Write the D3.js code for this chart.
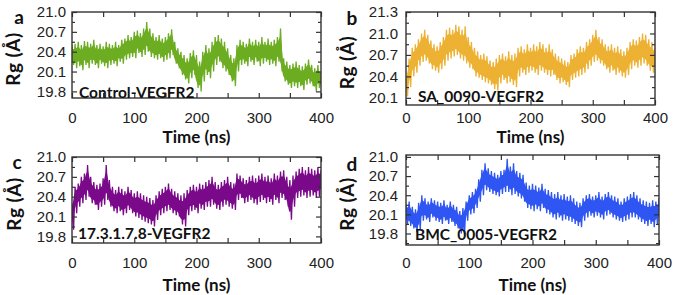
<!DOCTYPE html>
<html>
<head>
<meta charset="utf-8">
<script src="https://cdn.jsdelivr.net/npm/d3@7"></script>
<style>
  body { margin: 0; background: #fff; }
  .tick text { font-family: "Liberation Sans", Arial, sans-serif; font-size: 15px; fill: #222; }
  .tick line { stroke: #333; stroke-width: 1.2; }
  .lab { font-family: Lato, "Open Sans", sans-serif; font-weight: bold; fill: #111; }
</style>
</head>
<body>
<script>
  // time grid (ns), one bin every 5 ns; each bin has a high and a low Rg
  const times = d3.range(0, 401, 5);
  const xTicks = [0, 100, 200, 300, 400];
  const xMinorTicks = [50, 150, 250, 350];

  const names = ['Control-VEGFR2', 'SA_0090-VEGFR2', '17.3.1.7.8-VEGFR2', 'BMC_0005-VEGFR2'];
  const letters = ['a', 'b', 'c', 'd'];

  const yTicksA = [19.8, 20.1, 20.4, 20.7, 21.0];
  const yTicksB = [20.1, 20.4, 20.7, 21.0, 21.3];
  const yTicksC = [19.8, 20.1, 20.4, 20.7, 21.0];
  const yTicksD = [19.8, 20.1, 20.4, 20.7, 21.0];

  const controlHi = [20.50,20.52,20.55,20.50,20.56,20.55,20.52,20.58,20.50,20.52,20.48,20.55,20.52,20.50,20.55,20.50,20.58,20.60,20.65,20.62,
    20.70,20.72,20.68,20.75,20.85,20.75,20.68,20.62,20.65,20.60,20.62,20.68,20.74,20.55,20.45,20.40,20.35,20.30,20.38,20.42,
    20.35,20.25,20.40,20.50,20.45,20.55,20.62,20.65,20.60,20.55,20.45,20.35,20.30,20.50,20.58,20.55,20.52,20.60,20.55,20.58,
    20.55,20.62,20.55,20.60,20.55,20.58,20.62,20.75,20.30,20.25,20.20,20.22,20.25,20.20,20.18,20.22,20.28,20.20,20.15,20.20,20.10];
  const controlLo = [20.20,20.15,20.18,20.12,20.20,20.15,20.22,20.20,20.15,20.22,20.18,20.15,20.20,20.22,20.18,20.25,20.22,20.28,20.30,20.32,
    20.30,20.38,20.32,20.35,20.40,20.32,20.30,20.28,20.30,20.25,20.28,20.30,20.35,20.22,20.15,20.05,19.98,19.92,20.00,20.05,
    19.85,19.80,19.95,20.05,20.00,20.10,20.20,20.25,20.15,20.10,20.05,19.95,19.88,20.10,20.20,20.22,20.18,20.25,20.20,20.25,
    20.18,20.22,20.25,20.20,20.22,20.18,20.25,20.10,19.95,19.90,19.85,19.88,19.85,19.88,19.82,19.90,19.92,19.88,19.80,19.85,19.85];

  const sa0090Hi = [20.40,20.65,20.80,20.85,20.92,21.00,21.05,20.98,20.90,20.85,20.82,20.88,20.95,21.05,21.08,21.05,21.12,21.10,21.05,21.10,
    20.95,20.88,20.80,20.75,20.70,20.72,20.68,20.62,20.60,20.65,20.70,20.72,20.68,20.75,20.70,20.72,20.80,20.82,20.78,20.85,
    20.80,20.85,20.82,20.88,20.85,20.80,20.85,20.78,20.72,20.68,20.65,20.62,20.60,20.70,20.72,20.78,20.82,20.80,20.88,20.92,
    20.98,21.05,20.95,20.92,20.85,20.82,20.85,20.80,20.82,20.78,20.75,20.80,20.88,20.92,20.90,20.95,21.00,20.98,20.92,20.88,20.80];
  const sa0090Lo = [20.12,20.25,20.40,20.45,20.55,20.60,20.62,20.58,20.50,20.48,20.45,20.50,20.55,20.62,20.65,20.68,20.70,20.65,20.62,20.58,
    20.52,20.50,20.40,20.38,20.35,20.32,20.30,20.28,20.22,20.20,20.30,20.35,20.30,20.32,20.28,20.25,20.40,20.45,20.42,20.45,
    20.48,20.45,20.42,20.48,20.45,20.42,20.40,20.42,20.35,20.30,20.32,20.28,20.25,20.35,20.38,20.40,20.42,20.45,20.50,20.55,
    20.60,20.62,20.58,20.55,20.50,20.45,20.48,20.42,20.45,20.40,20.38,20.42,20.50,20.55,20.52,20.55,20.58,20.55,20.48,20.45,20.50];

  const ligandCHi = [20.30,20.55,20.60,20.70,20.75,20.88,20.70,20.62,20.58,20.60,20.68,20.88,20.65,20.55,20.50,20.55,20.52,20.48,20.55,20.50,
    20.45,20.48,20.45,20.42,20.40,20.38,20.35,20.42,20.48,20.52,20.55,20.60,20.52,20.48,20.45,20.42,20.45,20.50,20.55,20.58,
    20.55,20.60,20.58,20.62,20.65,20.70,20.62,20.58,20.62,20.65,20.70,20.62,20.60,20.75,20.72,20.68,20.65,20.70,20.72,20.68,
    20.72,20.75,20.70,20.72,20.68,20.75,20.72,20.78,20.80,20.70,20.65,20.72,20.78,20.82,20.85,20.80,20.85,20.82,20.80,20.85,20.80];
  const ligandCLo = [19.90,20.15,20.25,20.30,20.35,20.40,20.30,20.28,20.20,20.25,20.28,20.35,20.25,20.18,20.15,20.18,20.12,20.15,20.20,20.15,
    20.10,20.08,20.05,20.02,20.00,19.98,19.95,20.05,20.12,20.15,20.18,20.20,20.15,20.12,20.10,19.98,19.95,20.12,20.18,20.20,
    20.15,20.22,20.20,20.25,20.25,20.28,20.22,20.20,20.25,20.28,20.25,20.22,20.20,20.35,20.38,20.30,20.32,20.35,20.30,20.28,
    20.32,20.35,20.30,20.32,20.28,20.35,20.30,20.38,20.35,20.25,20.05,20.25,20.38,20.40,20.42,20.38,20.40,20.42,20.38,20.40,20.45];

  const bmc0005Hi = [20.25,20.30,20.22,20.18,20.28,20.40,20.35,20.30,20.35,20.32,20.30,20.28,20.32,20.25,20.30,20.25,20.22,20.15,20.20,20.30,
    20.40,20.45,20.50,20.65,20.80,20.90,20.82,20.78,20.75,20.72,20.78,20.80,20.97,20.85,20.90,20.78,20.75,20.72,20.60,20.55,
    20.58,20.55,20.52,20.58,20.50,20.48,20.45,20.42,20.45,20.40,20.42,20.38,20.40,20.35,20.30,20.28,20.35,20.40,20.42,20.38,
    20.40,20.45,20.38,20.42,20.45,20.40,20.38,20.35,20.30,20.35,20.38,20.42,20.45,20.40,20.35,20.32,20.30,20.28,20.32,20.30,20.35];
  const bmc0005Lo = [19.95,19.92,19.88,19.82,19.85,20.00,20.02,19.98,20.05,20.00,19.98,19.95,20.00,19.95,19.98,19.92,19.88,19.80,19.78,20.00,
    20.10,20.12,20.20,20.30,20.40,20.48,20.45,20.42,20.40,20.38,20.42,20.45,20.45,20.40,20.42,20.38,20.35,20.30,20.20,20.18,
    20.15,20.18,20.15,20.20,20.12,20.10,20.05,20.02,20.05,20.00,20.02,20.00,19.98,19.95,19.92,19.90,20.00,20.05,20.08,20.05,
    20.08,20.05,20.02,20.08,20.10,20.05,20.02,20.00,19.98,20.00,20.02,20.05,20.05,20.02,19.98,19.95,19.92,19.95,19.90,19.95,20.00];

  const width = 675;
  const height = 295;

  const panels = [
    { hi: controlHi, lo: controlLo, ticks: yTicksA, dom: [19.7, 21.0], color: '#6cad22',
      x0: 72, x1: 321, y0: 12, y1: 98, pad: 14.5, labY: 98, labX: 79, letter: [19, 24], rg: 14, timeY: 143 },
    { hi: sa0090Hi, lo: sa0090Lo, ticks: yTicksB, dom: [20.0, 21.3], color: '#edb133',
      x0: 406, x1: 655, y0: 12, y1: 105, pad: 7.5, labY: 102, labX: 418, letter: [352, 25], rg: 348, timeY: 143 },
    { hi: ligandCHi, lo: ligandCLo, ticks: yTicksC, dom: [19.7, 21.0], color: '#7a0a8a',
      x0: 72, x1: 321, y0: 157, y1: 243, pad: 14.5, labY: 239, labX: 78, letter: [17, 169], rg: 15, timeY: 291 },
    { hi: bmc0005Hi, lo: bmc0005Lo, ticks: yTicksD, dom: [19.62, 21.03], color: '#2f56f2',
      x0: 406, x1: 659, y0: 155, y1: 245, pad: 12.5, labY: 240, labX: 415, letter: [352, 171], rg: 348, timeY: 291 }
  ];

  const svg = d3.select('body').append('svg')
    .attr('width', width)
    .attr('height', height);

  const fmt = d3.format('.1f');

  panels.forEach((p, k) => {
    const x = d3.scaleLinear().domain([0, 400]).range([p.x0, p.x1]);
    const y = d3.scaleLinear().domain(p.dom).range([p.y1, p.y0]);
    const g = svg.append('g');

    // clip the trace to the frame
    g.append('clipPath').attr('id', 'clip' + k)
      .append('rect')
      .attr('x', p.x0).attr('y', p.y0)
      .attr('width', p.x1 - p.x0).attr('height', p.y1 - p.y0);

    const trace = g.append('g').attr('clip-path', `url(#clip${k})`);

    // solid core of the band, shrunk a bit so the spikes show at the edges
    const area = d3.area()
      .x(t => x(t))
      .y0((t, i) => y(p.lo[i] + (p.hi[i] - p.lo[i]) * 0.2))
      .y1((t, i) => y(p.hi[i] - (p.hi[i] - p.lo[i]) * 0.2))
      .curve(d3.curveMonotoneX);
    trace.append('path')
      .attr('d', area(times))
      .attr('fill', p.color);

    // zigzag between bin highs and lows gives the spiky trajectory edges
    const pts = [];
    times.forEach((t, i) => {
      pts.push([t, p.hi[i]]);
      pts.push([t + 2.5, p.lo[i]]);
    });
    const line = d3.line().x(d => x(d[0])).y(d => y(d[1]));
    trace.append('path')
      .attr('d', line(pts))
      .attr('fill', 'none')
      .attr('stroke', p.color)
      .attr('stroke-width', 1.3);

    const step = p.ticks[1] - p.ticks[0];
    const yMinor = p.ticks.map(v => v + step / 2).filter(v => v < p.dom[1])
      .concat([p.ticks[0] - step / 2].filter(v => v > p.dom[0]));

    const noDomain = s => s.select('.domain').remove();

    g.append('g').attr('transform', `translate(0,${p.y1})`)
      .call(d3.axisBottom(x).tickValues(xTicks).tickSizeInner(-5).tickSizeOuter(0).tickPadding(p.pad))
      .call(noDomain);
    g.append('g').attr('transform', `translate(0,${p.y1})`)
      .call(d3.axisBottom(x).tickValues(xMinorTicks).tickSizeInner(-5).tickSizeOuter(0).tickFormat(''))
      .call(noDomain);
    g.append('g').attr('transform', `translate(0,${p.y0})`)
      .call(d3.axisTop(x).tickValues(xTicks.concat(xMinorTicks)).tickSizeInner(-5).tickSizeOuter(0).tickFormat(''))
      .call(noDomain);

    g.append('g').attr('transform', `translate(${p.x0},0)`)
      .call(d3.axisLeft(y).tickValues(p.ticks).tickSizeInner(-5).tickSizeOuter(0).tickPadding(k % 2 ? 8 : 6).tickFormat(fmt))
      .call(noDomain);
    g.append('g').attr('transform', `translate(${p.x0},0)`)
      .call(d3.axisLeft(y).tickValues(yMinor).tickSizeInner(-3).tickSizeOuter(0).tickFormat(''))
      .call(noDomain);
    g.append('g').attr('transform', `translate(${p.x1},0)`)
      .call(d3.axisRight(y).tickValues(p.ticks).tickSizeInner(-5).tickSizeOuter(0).tickFormat(''))
      .call(noDomain);
    g.append('g').attr('transform', `translate(${p.x1},0)`)
      .call(d3.axisRight(y).tickValues(yMinor).tickSizeInner(-3).tickSizeOuter(0).tickFormat(''))
      .call(noDomain);

    g.append('rect')
      .attr('x', p.x0).attr('y', p.y0)
      .attr('width', p.x1 - p.x0).attr('height', p.y1 - p.y0)
      .attr('fill', 'none')
      .attr('stroke', '#333')
      .attr('stroke-width', 1.4);

    g.append('text').attr('class', 'lab')
      .attr('x', p.labX).attr('y', p.labY)
      .style('font-size', '15.5px')
      .text(names[k]);

    g.append('text').attr('class', 'lab')
      .attr('x', p.letter[0]).attr('y', p.letter[1])
      .attr('text-anchor', 'middle')
      .style('font-size', '19px')
      .text(letters[k]);

    g.append('text').attr('class', 'lab')
      .attr('transform', `translate(${p.rg + 6},${(p.y0 + p.y1) / 2 + 4}) rotate(-90)`)
      .attr('text-anchor', 'middle')
      .style('font-size', '19px')
      .style('letter-spacing', '0.5px')
      .text('Rg (Å)');

    g.append('text').attr('class', 'lab')
      .attr('x', (p.x0 + p.x1) / 2).attr('y', p.timeY)
      .attr('text-anchor', 'middle')
      .style('font-size', '17px')
      .text('Time (ns)');
  });
</script>
</body>
</html>
